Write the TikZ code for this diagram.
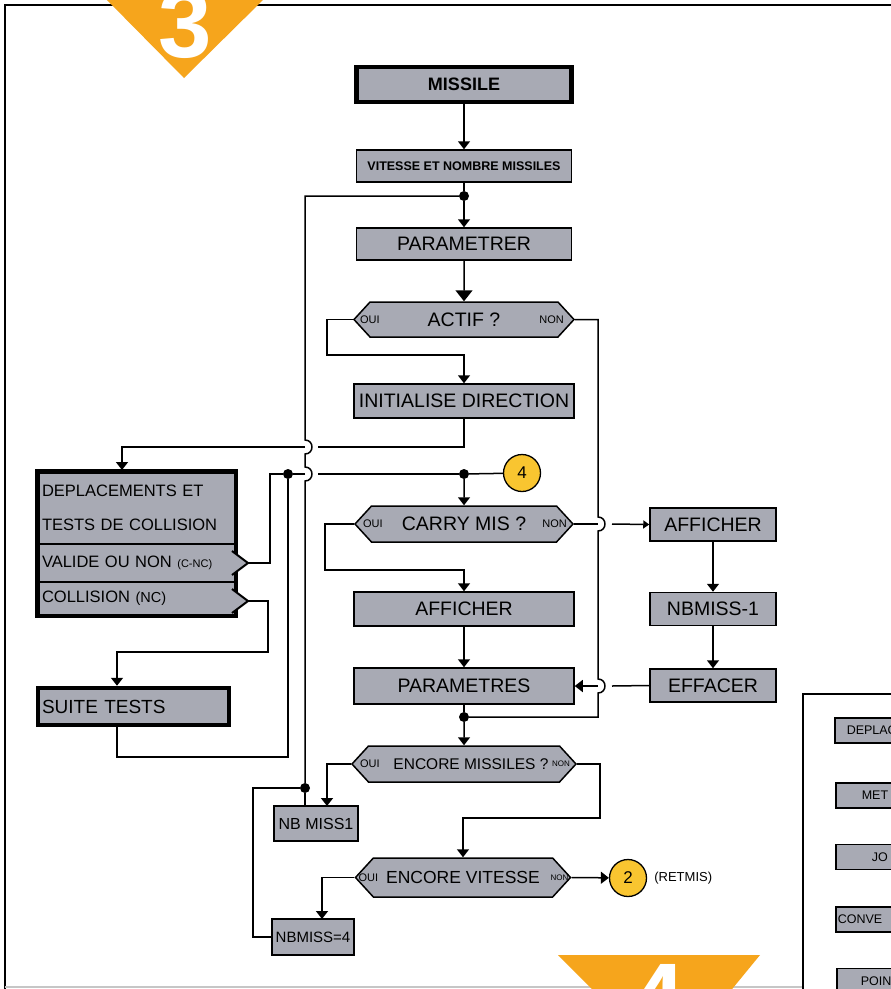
\documentclass[tikz,border=0pt]{standalone}
\usepackage{fontspec}
\setmainfont{Liberation Sans}
\usetikzlibrary{arrows.meta,positioning,calc,shapes.symbols}
\definecolor{boxgrey}{RGB}{168,170,180}
\definecolor{taborange}{RGB}{246,165,28}
\definecolor{tagyellow}{RGB}{249,197,48}

\begin{document}
\begin{tikzpicture}[
  x=1pt, y=-1pt,
  box/.style={draw, line width=1.5pt, fill=boxgrey, inner sep=0pt, font=\fontsize{19.5}{22}\selectfont},
  heavy/.style={box, line width=4.5pt},
  test/.style={box, signal, signal to=east and west, signal pointer angle=95},
  sect/.style={box, text width=189pt, align=left, inner xsep=4pt, font=\fontsize{16.5}{34}\selectfont},
  side/.style={box, anchor=west, minimum height=25pt, text width=90pt, align=left, font=\fontsize{12.5}{14}\selectfont},
  yesno/.style={font=\fontsize{11}{11}\selectfont, inner sep=0pt},
  link/.style={line width=1.5pt},
  arr/.style={-{Triangle[length=8pt,width=12pt]}},
  dot/.style={circle, fill, inner sep=0pt, minimum size=10pt},
  tag/.style={circle, draw, line width=1.3pt, fill=tagyellow, minimum size=37pt, inner sep=0pt, font=\fontsize{17}{17}\selectfont}
]
\useasboundingbox (0,0) rectangle (891,989);
\clip (0,0) rectangle (891,989);
\fill[white] (0,0) rectangle (891,989);

% page frame and the two corner tabs
\draw[line width=2pt] (5,989) -- (5,5) -- (891,5);
\draw[gray!45, line width=1.2pt] (5,987) -- (803,987);
\fill[taborange] (105,-2) -- (265,-2) -- (184,78) -- cycle;
\node[text=white, font=\bfseries\fontsize{96}{96}\selectfont, anchor=base, inner sep=0pt] (three) at (185,57) {3};
\fill[taborange] (558,955) -- (760,955) -- (669,1066) -- cycle;
\node[text=white, font=\bfseries\fontsize{96}{96}\selectfont, anchor=base, inner sep=0pt] (four) at (658,1030) {4};

% main column
\node[heavy, minimum width=215pt, minimum height=35pt, font=\bfseries\fontsize{18}{20}\selectfont] (missile) at (464,84.5) {MISSILE};
\node[box, minimum width=215pt, minimum height=32pt, font=\bfseries\fontsize{12.5}{14}\selectfont] (vitesse) at (464,166) {VITESSE ET NOMBRE MISSILES};
\node[box, minimum width=215pt, minimum height=32pt] (parametrer) at (464,244) {PARAMETRER};
\node[test, minimum width=220pt, minimum height=35pt] (actif) at (464,319.5) {ACTIF ?};
\node[box, minimum width=220pt, minimum height=34pt] (initdir) at (464,401) {INITIALISE DIRECTION};
\node[test, minimum width=218pt, minimum height=36pt] (carry) at (464,524) {CARRY MIS ?};
\node[box, minimum width=220pt, minimum height=34pt] (afficher) at (464,609) {AFFICHER};
\node[box, minimum width=220pt, minimum height=36pt] (parametres) at (464,686) {PARAMETRES};
\node[test, minimum width=224pt, minimum height=36pt, font=\fontsize{15.5}{20}\selectfont] (encmiss) at (464,764) {\hspace*{14pt}ENCORE MISSILES ?};
\node[test, minimum width=215pt, minimum height=39pt, font=\fontsize{17.5}{20}\selectfont] (encvit) at (463,877.5) {ENCORE VITESSE};

\node[yesno, right=7pt of actif.west] {OUI};
\node[yesno, left=11pt of actif.east] {NON};
\node[yesno, right=9pt of carry.west] {OUI};
\node[yesno, left=7pt of carry.east] {NON};
\node[yesno, right=9pt of encmiss.west] {OUI};
\node[yesno, left=7pt of encmiss.east, font=\fontsize{8}{8}\selectfont] {NON};
\node[yesno, right=4pt of encvit.west] {OUI};
\node[yesno, left=3pt of encvit.east, font=\fontsize{8}{8}\selectfont] {NON};

% right column
\node[box, minimum width=126pt, minimum height=33pt] (affright) at (713,524.5) {AFFICHER};
\node[box, minimum width=126pt, minimum height=33pt] (nbmoins) at (713,609) {NBMISS-1};
\node[box, minimum width=126pt, minimum height=33pt] (effacer) at (713,685.5) {EFFACER};

% left column
\node[sect, minimum height=72pt] (deplace) at (136.5,508) {DEPLACEMENTS ET\\TESTS DE COLLISION};
\node[sect, minimum height=38pt] (valide) at (136.5,563) {VALIDE OU NON {\fontsize{11}{11}\selectfont(C-NC)}};
\node[sect, minimum height=33pt] (collision) at (136.5,598.5) {COLLISION {\fontsize{14.5}{14.5}\selectfont(NC)}};
\draw[line width=4.5pt] (deplace.north west) rectangle (collision.south east);
\coordinate (vtip) at (248,563);
\coordinate (ctip) at (248,601);
\filldraw[fill=boxgrey, line width=2pt] (232,551) -- (vtip) -- (232,575);
\filldraw[fill=boxgrey, line width=2pt] (232,589) -- (ctip) -- (232,613);
\node[heavy, minimum width=191pt, minimum height=37pt, text width=183pt, align=left, inner xsep=4pt, font=\fontsize{19}{22}\selectfont] (suite) at (133.5,706.5) {SUITE TESTS};
\node[box, minimum width=84pt, minimum height=35pt, font=\fontsize{16}{18}\selectfont] (nbmiss1) at (316,823.5) {NB MISS1};
\node[box, minimum width=82pt, minimum height=36pt, font=\fontsize{15}{18}\selectfont] (nbmiss4) at (313,937) {NBMISS=4};

% junctions and connectors
\node[dot] (d1) at (464,196) {};
\node[dot] (d2) at (464,474) {};
\node[dot] (d3) at (288,474) {};
\node[dot] (d4) at (464,717) {};
\node[dot] (d5) at (305,788) {};
\node[tag] (tag4) at (522,473) {4};
\node[tag] (tag2) at (628,878) {2};
\node[right=7pt of tag2, inner sep=0pt, font=\fontsize{13}{13}\selectfont] (retmis) {(RETMIS)};

\draw[link,arr] (missile) -- (vitesse);
\draw[link] (vitesse) -- (d1);
\draw[link,arr] (d1) -- (parametrer);
\draw[link,-{Triangle[length=11pt,width=17pt]}] (parametrer) -- (actif);
\draw[link,arr] (actif.west) -| (327,355) -| (initdir.north);
\draw[link] (actif.east) -| (598,517) .. controls +(9.3,0) and +(9.3,0) .. (598,531)
  -- (598,679) .. controls +(9.3,0) and +(9.3,0) .. (598,693) |- (d4);
\coordinate (dtop) at (122,470);
\draw[link] (initdir) |- (318,447);
\draw[link,arr] (305,447) -| (dtop);
\draw[link] (d5) -- (305,481) .. controls +(9.3,0) and +(9.3,0) .. (305,467)
  -- (305,454) .. controls +(9.3,0) and +(9.3,0) .. (305,440) |- (d1);
\draw[link] (d5) -- (d5 |- nbmiss1.north);
\draw[link] (nbmiss4.west) -| (253,788) -- (d5);

\draw[link] (tag4) -- (d2);
\draw[link,arr] (d2) -- (carry);
\draw[link] (d2) -- (318,474);
\draw[link] (305,474) -- (d3);
\draw[link] (d3) -- (270,474) |- (vtip);
\coordinate (sb) at (117,757);
\draw[link] (d3) |- (sb) -- (sb |- suite.south);
\coordinate (sa) at (117,652);
\draw[link,arr] (ctip) -- (268,601) |- (sa) -- (sa |- suite.north);

\draw[link,arr] (carry.west) -| (325,570) -| (afficher.north);
\draw[link] (carry.east) -- (598,524);
\draw[link,-{Triangle[length=6pt,width=8pt]}] (612,524) -- (affright.west);
\draw[link,arr] (affright) -- (nbmoins);
\draw[link,arr] (nbmoins) -- (effacer);
\draw[link] (effacer.west) -- (612,686);
\draw[link,arr] (598,686) -- (parametres.east);
\draw[link,arr] (afficher) -- (parametres);
\draw[link] (parametres) -- (d4);
\draw[link,arr] (d4) -- (encmiss);
\coordinate (m1) at (327,806);
\draw[link,arr] (encmiss.west) -| (m1);
\draw[link,arr] (encmiss.east) -| (600,818) -| (encvit.north);
\coordinate (m4) at (322,919);
\draw[link,arr] (encvit.west) -| (m4);
\draw[link,arr] (encvit.east) -- (tag2);

% index panel at the lower right
\draw[line width=1.8pt] (803,989) -- (803,694) -- (891,694);
\node[side] (sdeplac) at (834,730.5) {\hspace*{12pt}DEPLAC};
\node[side] (smet) at (835,795.5) {\hspace*{26pt}MET};
\node[side] (sjo) at (835,857) {\hspace*{36pt}JO};
\node[side] (sconve) at (835,919.5) {\hspace*{2pt}CONVE};
\node[side] (spoin) at (836,981) {\hspace*{24pt}POIN};
\end{tikzpicture}
\end{document}
